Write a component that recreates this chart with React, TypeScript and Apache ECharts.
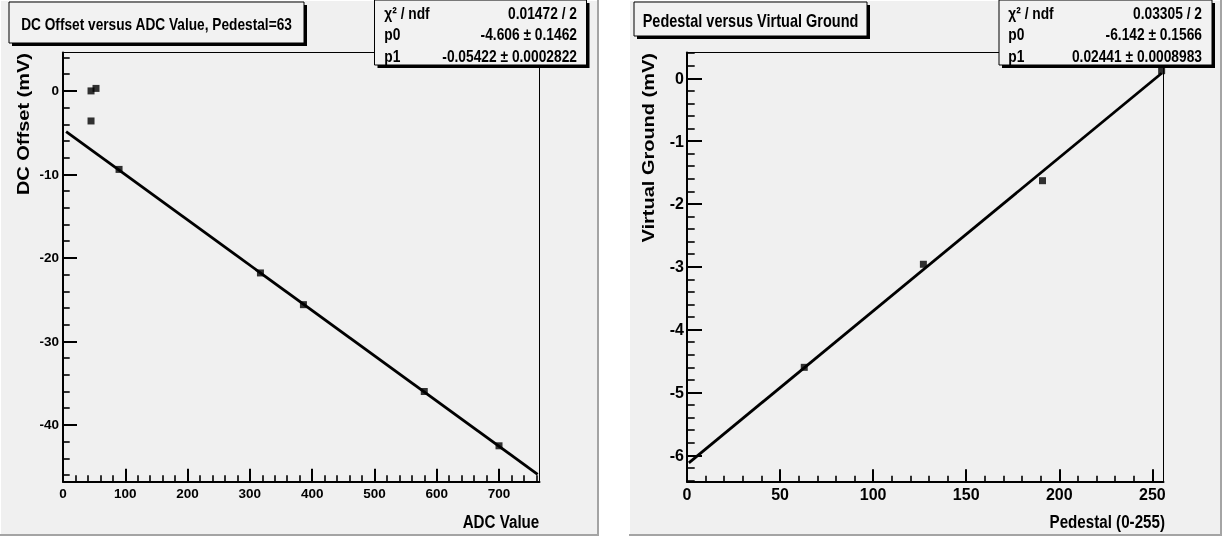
import React, { useEffect, useRef } from "react";
import * as echarts from "echarts";

// ---- Left panel data: DC Offset versus ADC Value ----
const adcValues = [45, 53, 45, 90, 317, 386, 580, 700];
const dcOffsets = [0.0, 0.3, -3.6, -9.4, -21.8, -25.6, -36.0, -42.5];
const adcFitX = [5, 762];
const adcFitY = [-4.87, -45.92];
const adcMajorTicks = [0, 100, 200, 300, 400, 500, 600, 700];
const dcMajorTicks = [-40, -30, -20, -10, 0];
const adcRange = [0, 765];
const dcRange = [-46.8, 4.6];

// ---- Right panel data: Pedestal versus Virtual Ground ----
const pedestals = [63, 127, 191, 255];
const virtualGround = [-4.6, -2.96, -1.63, 0.12];
const pedFitX = [1, 255];
const pedFitY = [-6.12, 0.08];
const pedMajorTicks = [0, 50, 100, 150, 200, 250];
const vgMajorTicks = [-6, -5, -4, -3, -2, -1, 0];
const pedRange = [0, 256];
const vgRange = [-6.42, 0.41];

// ---- Texts ----
const leftTitle = "DC Offset versus ADC Value, Pedestal=63";
const rightTitle = "Pedestal versus Virtual Ground";
const leftStatsLabels = ["χ² / ndf", "p0", "p1"];
const leftStatsValues = ["0.01472 / 2", "-4.606 ± 0.1462", "-0.05422 ± 0.0002822"];
const rightStatsLabels = ["χ² / ndf", "p0", "p1"];
const rightStatsValues = ["0.03305 / 2", "-6.142 ± 0.1566", "0.02441 ± 0.0008983"];

function range(start: number, stop: number, step: number): number[] {
  const out: number[] = [];
  const n = Math.round((stop - start) / step);
  for (let i = 0; i <= n; i++) out.push(Math.round((start + i * step) * 1000) / 1000);
  return out;
}
const adcMinorTicks = range(0, 760, 20);
const dcMinorTicks = range(-46, 4, 2);
const pedMinorTicks = range(0, 250, 10);
const vgMinorTicks = range(-6.4, 0.4, 0.2);

const FONT = "'Liberation Sans', Arial, Helvetica, sans-serif";
const NARROW = "'Liberation Sans Narrow', 'Liberation Sans', Arial, sans-serif";
const PAD = "#f0f0f0";

function zip(a: number[], b: number[]) {
  return a.map((v, i) => [v, b[i]]);
}

function makeAxis(
  gridIndex: number,
  r: number[],
  ticks: number[],
  major: boolean,
  len: number,
  fontSize: number,
  margin: number
) {
  return {
    gridIndex,
    type: "value",
    min: r[0],
    max: r[1],
    axisLine: { show: major, onZero: false, lineStyle: { color: "#000", width: 2 } },
    axisTick: {
      show: true,
      inside: true,
      length: len,
      customValues: ticks,
      lineStyle: { color: "#000", width: major ? 2 : 1.6 },
    },
    axisLabel: major
      ? {
          show: true,
          customValues: ticks,
          margin,
          color: "#000",
          fontSize,
          fontWeight: "bold",
          fontFamily: NARROW,
        }
      : { show: false },
    splitLine: { show: false },
    minorTick: { show: false },
  };
}

function boxWithShadow(x: number, y: number, w: number, h: number) {
  return [
    { type: "rect", z: 50, shape: { x: x + 3, y: y + 3, width: w, height: h }, style: { fill: "#000" } },
    {
      type: "rect",
      z: 51,
      shape: { x, y, width: w, height: h },
      style: { fill: "#f2f2f2", stroke: "#000", lineWidth: 1 },
    },
  ];
}

function hText(text: string, x: number, y: number, size: number, align: string) {
  return {
    type: "text",
    z: 60,
    x,
    y,
    scaleX: 0.82,
    style: {
      text,
      fontSize: size,
      fontWeight: "bold",
      fontFamily: FONT,
      fill: "#000",
      align,
      verticalAlign: "middle",
    },
  };
}

function statTexts(labels: string[], values: string[], lx: number, rx: number) {
  const ys = [12.8, 33.8, 55.5];
  const out: any[] = [];
  labels.forEach((l, i) => out.push(hText(l, lx, ys[i], 16.8, "left")));
  values.forEach((v, i) => out.push(hText(v, rx, ys[i], 16.8, "right")));
  return out;
}

function padElements(x: number, w: number) {
  return [
    { type: "rect", z: -100, shape: { x, y: 0, width: w, height: 536 }, style: { fill: PAD } },
    { type: "line", z: -99, shape: { x1: x + 0.5, y1: 0, x2: x + 0.5, y2: 536 }, style: { stroke: "#ffffff", lineWidth: 1 } },
    { type: "line", z: -99, shape: { x1: x, y1: 0.5, x2: x + w, y2: 0.5 }, style: { stroke: "#ffffff", lineWidth: 1 } },
    { type: "line", z: -99, shape: { x1: x + w - 1, y1: 0, x2: x + w - 1, y2: 536 }, style: { stroke: "#a4a4a4", lineWidth: 2 } },
    { type: "line", z: -99, shape: { x1: x, y1: 535, x2: x + w, y2: 535 }, style: { stroke: "#a4a4a4", lineWidth: 2 } },
  ];
}

export default function App() {
  const ref = useRef<HTMLDivElement>(null);

  useEffect(() => {
    if (!ref.current) return;
    const chart = echarts.init(ref.current, undefined, { renderer: "svg" });

    const graphicElements: any[] = [
      ...padElements(0, 599),
      ...padElements(629, 593),
      ...boxWithShadow(9, 2, 295, 41),
      hText(leftTitle, 156.5, 24, 16.7, "center"),
      ...boxWithShadow(634, 2, 233, 34),
      hText(rightTitle, 750.5, 20.8, 17.7, "center"),
      ...boxWithShadow(374.5, 0, 212, 65),
      ...statTexts(leftStatsLabels, leftStatsValues, 384.3, 577),
      ...boxWithShadow(999, 0, 213, 65),
      ...statTexts(rightStatsLabels, rightStatsValues, 1008.3, 1202),
      hText("ADC Value", 539.3, 521.7, 18.5, "right"),
      hText("Pedestal (0-255)", 1165, 521.7, 18.5, "right"),
      {
        type: "text",
        z: 60,
        x: 23,
        y: 53,
        rotation: Math.PI / 2,
        scaleY: 0.84,
        style: {
          text: "DC Offset (mV)",
          fontSize: 20,
          fontWeight: "bold",
          fontFamily: FONT,
          fill: "#000",
          align: "right",
          verticalAlign: "middle",
        },
      },
      {
        type: "text",
        z: 60,
        x: 648,
        y: 53,
        rotation: Math.PI / 2,
        scaleY: 0.84,
        style: {
          text: "Virtual Ground (mV)",
          fontSize: 20,
          fontWeight: "bold",
          fontFamily: FONT,
          fill: "#000",
          align: "right",
          verticalAlign: "middle",
        },
      },
    ];

    chart.setOption({
      animation: false,
      grid: [
        { left: 63, top: 52.5, width: 476.5, height: 429.2, show: true, backgroundColor: "transparent", borderColor: "#000", borderWidth: 1 },
        { left: 687, top: 52.5, width: 476.5, height: 429.2, show: true, backgroundColor: "transparent", borderColor: "#000", borderWidth: 1 },
      ],
      xAxis: [
        { ...makeAxis(0, adcRange, adcMajorTicks, true, 13, 13.5, 5), position: "bottom" },
        { ...makeAxis(0, adcRange, adcMinorTicks, false, 6.5, 13.5, 5), position: "bottom" },
        { ...makeAxis(1, pedRange, pedMajorTicks, true, 12.5, 16, 5), position: "bottom" },
        { ...makeAxis(1, pedRange, pedMinorTicks, false, 6, 16, 5), position: "bottom" },
      ],
      yAxis: [
        { ...makeAxis(0, dcRange, dcMajorTicks, true, 14, 13.5, 4), position: "left" },
        { ...makeAxis(0, dcRange, dcMinorTicks, false, 6.7, 13.5, 4), position: "left" },
        { ...makeAxis(1, vgRange, vgMajorTicks, true, 15, 16, 3), position: "left" },
        { ...makeAxis(1, vgRange, vgMinorTicks, false, 7.7, 16, 3), position: "left" },
      ],
      series: [
        {
          type: "line",
          xAxisIndex: 0,
          yAxisIndex: 0,
          data: zip(adcFitX, adcFitY),
          symbol: "none",
          lineStyle: { color: "#000", width: 2.8 },
          z: 3,
        },
        {
          type: "scatter",
          xAxisIndex: 0,
          yAxisIndex: 0,
          data: zip(adcValues, dcOffsets),
          symbol: "rect",
          symbolSize: 7,
          itemStyle: { color: "#000" },
          z: 4,
        },
        {
          type: "line",
          xAxisIndex: 2,
          yAxisIndex: 2,
          data: zip(pedFitX, pedFitY),
          symbol: "none",
          lineStyle: { color: "#000", width: 2.8 },
          z: 3,
        },
        {
          type: "scatter",
          xAxisIndex: 2,
          yAxisIndex: 2,
          data: zip(pedestals, virtualGround),
          symbol: "rect",
          symbolSize: 7,
          itemStyle: { color: "#000" },
          z: 4,
        },
      ],
      graphic: { elements: graphicElements },
    });

    return () => chart.dispose();
  }, []);

  return (
    <div
      ref={ref}
      style={{ position: "fixed", left: 0, top: 0, width: 1226, height: 537 }}
    />
  );
}
